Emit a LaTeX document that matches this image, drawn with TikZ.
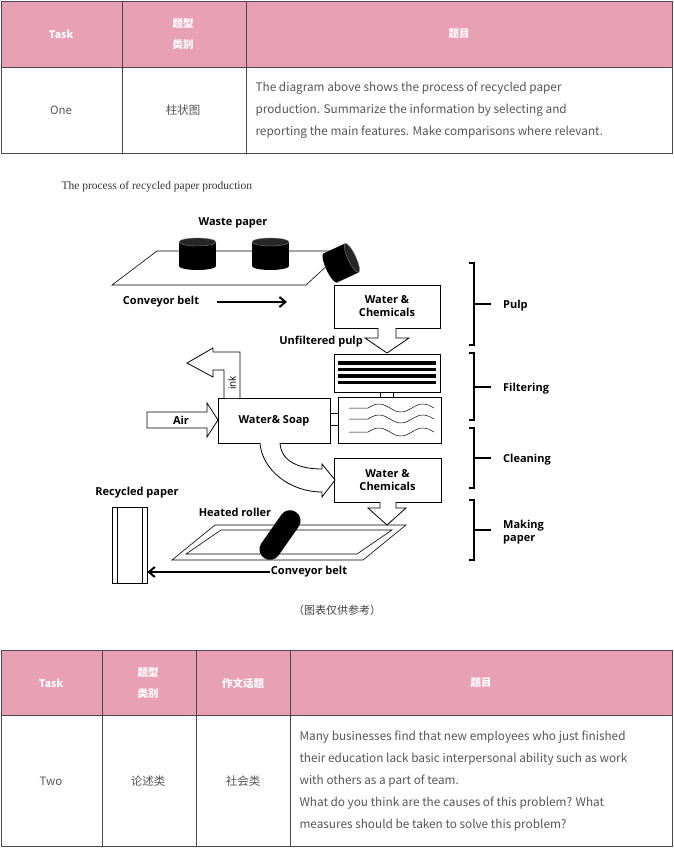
\documentclass[tikz,border=0pt]{standalone}
\usepackage{fontspec}
\setmainfont{Noto Sans CJK SC}
\newfontfamily\diagfont{Open Sans}
\newfontfamily\titlefont{Liberation Serif}
\usepackage{tikz}
\usetikzlibrary{arrows.meta, positioning, calc, shapes.misc}
\definecolor{headpink}{HTML}{E8A1B4}
\definecolor{rulegray}{HTML}{4A4A4A}
\definecolor{bodytext}{HTML}{555555}

\begin{document}
\begin{tikzpicture}[x={(1pt,0)}, y={(0,-1pt)},
    head/.style={font=\fontsize{10.5}{21}\selectfont\bfseries, text=white, align=center},
    cell/.style={font=\fontsize{11.5}{22}\selectfont, text=bodytext, align=center},
    para/.style={font=\fontsize{11.8}{22}\selectfont, text=bodytext, align=left, anchor=west},
    box/.style={draw, line width=1pt, fill=white, inner sep=0pt},
    lbl/.style={font=\diagfont\bfseries\fontsize{11}{13}\selectfont, align=center, inner sep=1pt},
    hollow/.style={draw, line width=0.8pt, fill=white},
    brace/.style={line width=2.2pt, line cap=butt}
]
\useasboundingbox (0,0) rectangle (674,848);

% task one table
\fill[headpink] (1,1) rectangle (672,67);
\draw[rulegray] (1,1) rectangle (672,153) (1,67) -- (672,67) (122,1) -- (122,153) (246,1) -- (246,153);
\node[head] (taskA) at (61,34) {Task};
\node[head] (typeA) at (183,34) {题型\\类别};
\node[head] (topicA) at (459,34) {题目};
\node[cell] (oneA) at (61,110) {One};
\node[cell] (chartA) at (183,110) {柱状图};
\node[para] (textA) at (252,110) {The diagram above shows the process of recycled paper\\production. Summarize the information by selecting and\\reporting the main features. Make comparisons where relevant.};

% diagram
\node[anchor=west, font=\titlefont\fontsize{11.5}{13}\selectfont, text=black!80] (title) at (58,187) {The process of recycled paper production};

% top belt and waste paper
\draw[line width=0.6pt] (112,285) -- (157,251) -- (343,251) -- (306,285) -- cycle;
\node[lbl] (waste) at (233,223) {Waste paper};
\foreach \cx in {197.5, 270.5} {
  \fill (\cx-18.5,242) rectangle (\cx+18.5,266);
  \fill (\cx,266) ellipse (18.5 and 4);
  \filldraw[fill=black!85, draw=gray, line width=0.4pt] (\cx,242) ellipse (18.5 and 4);
}
\begin{scope}[shift={(341,263)}, rotate=-65]
  \fill (-16,-12) rectangle (16,12);
  \fill (0,12) ellipse (16 and 4);
  \filldraw[fill=black!85, draw=gray, line width=0.4pt] (0,-12) ellipse (16 and 4);
\end{scope}
\node[lbl] (beltA) at (161,302) {Conveyor belt};
\draw[line width=2pt, -{Straight Barb[length=6pt,width=10pt]}] (217,302) -- (287,302);

% process boxes
\node[box, minimum width=106pt, minimum height=43pt, lbl] (pulpbox) at (387,306.5) {Water \&\\Chemicals};
\node[box, minimum width=106pt, minimum height=38pt] (filter) at (387,373) {};
\foreach \ly in {363,369.5,376,382.5} \fill (338,\ly-1.6) rectangle (436,\ly+1.6);
\node[box, line width=0.5pt, minimum width=103pt, minimum height=46pt] (wavy) at (389.5,420) {};
\node[box, line width=0.6pt, minimum width=112pt, minimum height=45pt, lbl] (soap) at (274,420.5) {Water\& Soap};
\node[box, minimum width=107pt, minimum height=44pt, lbl] (chem) at (387.5,480) {Water \&\\Chemicals};
\draw[line width=0.5pt, fill=white] (380,392) rectangle (393,397);
\draw[line width=0.5pt, fill=white] (330,413) rectangle (338,425);
\foreach \wy in {408,419,432} {
  \draw[line width=0.5pt] (349,\wy) -- (368,\wy) -- plot[domain=0:66, samples=50] ({368+\x},{\wy-4*sin(\x*8.2)});
}

% hollow arrows
\draw[hollow] (378,328) -- (378,338) -- (365,338) -- (387,353) -- (409,338) -- (396,338) -- (396,328);
\node[lbl, anchor=east] (unfilt) at (364,342) {Unfiltered pulp};
\draw[hollow] (380,502) -- (380,508) -- (368,508) -- (387,525) -- (406,508) -- (396,508) -- (396,502);
\draw[hollow] (147,412) -- (207,412) -- (207,403) -- (218,420) -- (207,437) -- (207,428) -- (147,428) -- cycle;
\node[lbl] (air) at (181,420) {Air};
\draw[hollow] (240,398) -- (240,352) -- (213,352) -- (213,348) -- (187,363) -- (213,377) -- (213,370) -- (224,370) -- (224,398);
\node[lbl, rotate=90, font=\diagfont\fontsize{10}{12}\selectfont] (ink) at (232,383) {ink};
\draw[hollow] (260,443) .. controls (262,470) and (290,492) .. (322,492) -- (322,497) -- (335,480) -- (322,464) -- (322,469) .. controls (300,469) and (281,462) .. (280,443);

% bottom belt, roller, recycled paper
\draw[line width=0.6pt] (172,560) -- (215,525) -- (406,525) -- (363,560) -- cycle;
\draw[line width=0.6pt] (186,554) -- (221,530) -- (392,530) -- (357,554) -- cycle;
\node[fill=black, rounded rectangle, minimum width=56pt, minimum height=21pt, rotate=55, inner sep=0pt] (roller) at (280,535) {};
\node[lbl] (heated) at (235,512) {Heated roller};
\node[lbl] (recycled) at (137,493) {Recycled paper};
\node[draw, line width=0.6pt, minimum width=35pt, minimum height=76pt, inner sep=0pt] (sheet) at (129.5,545) {};
\draw[line width=0.6pt] (117,507) -- (117,583) (142,507) -- (142,583);
\node[lbl] (beltB) at (309,572) {Conveyor belt};
\draw[line width=2pt, -{Straight Barb[length=6pt,width=10pt]}] (beltB.west) -- (sheet.east |- beltB.west);

% stage brackets
\foreach \ya/\yb/\ym/\txt in {263/345/304/Pulp, 353/420/387/Filtering, 428/488/458/Cleaning, 500/560/530/{Making\\paper}} {
  \draw[brace] (469,\ya) -- (474,\ya) -- (474,\yb) -- (469,\yb);
  \draw[brace] (474,\ym) -- (491,\ym);
  \node[lbl, anchor=west, align=left] at (502,\ym+2) {\txt};
}

\node[font=\fontsize{11}{13}\selectfont, text=black!75] (caption) at (337,610) {（图表仅供参考）};

% task two table
\fill[headpink] (1,650) rectangle (672,715);
\draw[rulegray] (1,650) rectangle (672,846) (1,715) -- (672,715) (102,650) -- (102,846) (196,650) -- (196,846) (290,650) -- (290,846);
\node[head] (taskB) at (51,683) {Task};
\node[head] (typeB) at (148,683) {题型\\类别};
\node[head] (themeB) at (243,683) {作文话题};
\node[head] (topicB) at (481,683) {题目};
\node[cell] (twoB) at (51,781) {Two};
\node[cell] (kindB) at (148,781) {论述类};
\node[cell] (socB) at (243,781) {社会类};
\node[para] (textB) at (296,781) {Many businesses find that new employees who just finished\\their education lack basic interpersonal ability such as work\\with others as a part of team.\\What do you think are the causes of this problem? What\\measures should be taken to solve this problem?};
\end{tikzpicture}
\end{document}
